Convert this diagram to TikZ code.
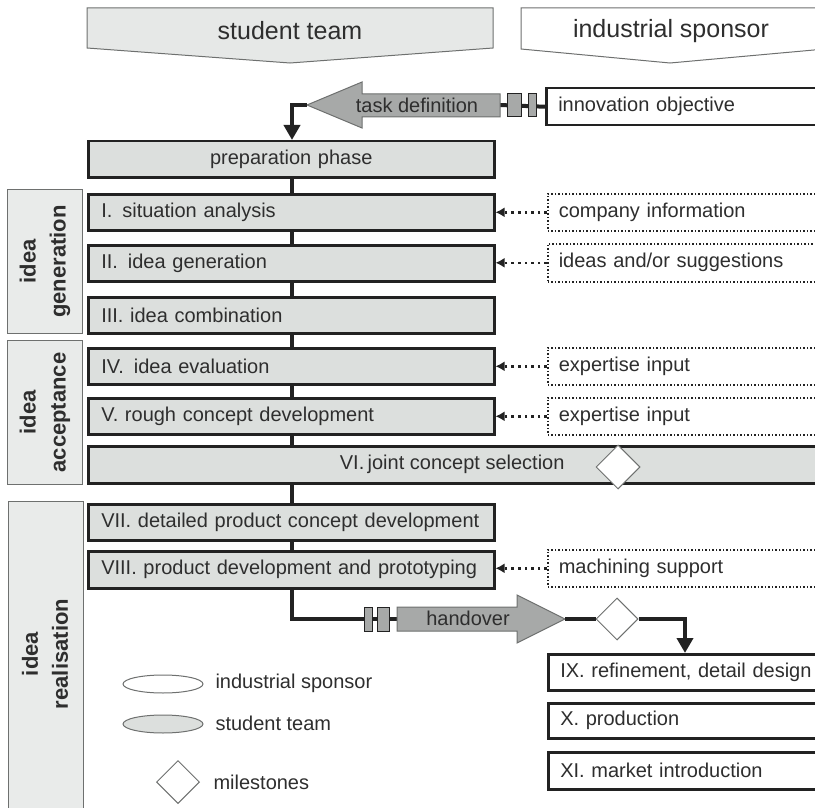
\documentclass[tikz,border=0pt]{standalone}
\usepackage{fontspec}
\setmainfont{Liberation Sans}
\usetikzlibrary{arrows.meta,shapes.geometric}
\definecolor{boxgray}{HTML}{DCDFDD}
\definecolor{hdrgray}{HTML}{E6E8E7}
\definecolor{arrgray}{HTML}{A7A9A8}
\definecolor{txt}{HTML}{2E2E2E}
\definecolor{edge}{HTML}{222222}
\definecolor{sidegray}{HTML}{E9EBEA}
\definecolor{thin}{HTML}{6E706F}
\tikzset{
  bt/.style={font=\fontsize{20}{24}\selectfont, text=txt},
  stbox/.style={bt, draw=edge, line width=2.5pt, fill=boxgray, minimum height=36pt,
     text width=380pt, inner xsep=13pt, inner ysep=0pt, align=left, anchor=north west},
  spbox/.style={bt, draw=edge, line width=2.5pt, fill=white, minimum height=36pt,
     text width=256pt, inner xsep=12pt, inner ysep=0pt, align=left, anchor=north west},
  dotbox/.style={bt, draw=edge, line width=1.6pt, dash pattern=on 1.5pt off 2pt, fill=white, minimum height=37pt,
     text width=256pt, inner xsep=11pt, inner ysep=0pt, align=left, anchor=north west},
  sidebox/.style={draw=thin, line width=1pt, fill=sidegray, anchor=north west, minimum width=75pt},
  sidetext/.style={font=\bfseries\fontsize{22}{30}\selectfont, text=txt, align=center, rotate=90},
  hdr/.style={draw=thin, line width=1pt},
  conn/.style={draw=edge, line width=4pt},
  connarrow/.style={conn, -{Triangle[length=15pt,width=16pt]}},
  dotarrow/.style={draw=edge, line width=2.6pt, dash pattern=on 2.6pt off 4pt, -{Latex[length=9pt,width=10pt]}},
  arrshape/.style={draw=thin, line width=1pt, fill=arrgray},
  smallrect/.style={draw=edge, line width=1pt, fill=arrgray},
  milestone/.style={diamond, draw=thin, line width=1pt, fill=white, inner sep=0pt},
}
\begin{document}
\begin{tikzpicture}[x=1pt,y=-1pt]
\useasboundingbox (0,0) rectangle (815,808);
\clip (0,0) rectangle (815,808);
% headers
\path[hdr, fill=hdrgray] (87,8) -- (493,8) -- (493,48) -- (290,63) -- (87,48) -- cycle;
\node[bt, font=\fontsize{25}{30}\selectfont] (hst) at (290,31) {student team};
\path[hdr, fill=white] (521,8) -- (825,8) -- (825,49) -- (670,63) -- (521,49) -- cycle;
\node[bt, font=\fontsize{25}{30}\selectfont] (hsp) at (671,31) {industrial sponsor};

% spine coordinate
\coordinate (spine) at (292,0);

% side labels
\node[sidebox, minimum height=144pt] (sgen) at (7,189) {};
\node[sidetext] (tgen) at (sgen.center) {idea\\generation};
\node[sidebox, minimum height=144pt] (sacc) at (7,340) {};
\node[sidetext] (tacc) at (sacc.center) {idea\\acceptance};
\node[sidebox, minimum height=315pt] (srea) at (8,501) {};
\node[sidetext] (trea) at (45,654) {idea\\realisation};

% main boxes
\node[stbox, align=center] (prep) at (87,140) {preparation phase};
\node[stbox] (s1) at (87,193) {I.\enspace situation analysis};
\node[stbox] (s2) at (87,244) {II.\enspace idea generation};
\node[stbox] (s3) at (87,296) {III. idea combination};
\node[stbox] (s4) at (87,347) {IV.\enspace idea evaluation};
\node[stbox] (s5) at (87,397) {V. rough concept development};
\node[stbox, text width=712pt, minimum height=37pt] (s6) at (87,445) {};
\node[bt, anchor=east] (t6) at (568,464) {VI.\,joint concept selection};
\node[milestone, minimum width=44pt, minimum height=44pt] (ms1) at (618,467) {};
\node[stbox] (s7) at (87,503) {VII. detailed product concept development};
\node[stbox, minimum height=37pt] (s8) at (87,550) {VIII. product development and prototyping};

% spine connectors
\draw[conn] (prep.south -| spine) -- (s1.north -| spine);
\draw[conn] (s1.south -| spine) -- (s2.north -| spine);
\draw[conn] (s2.south -| spine) -- (s3.north -| spine);
\draw[conn] (s3.south -| spine) -- (s4.north -| spine);
\draw[conn] (s4.south -| spine) -- (s5.north -| spine);
\draw[conn] (s5.south -| spine) -- (s6.north -| spine);
\draw[conn] (s6.south -| spine) -- (s7.north -| spine);
\draw[conn] (s7.south -| spine) -- (s8.north -| spine);

% sponsor inputs
\node[spbox, minimum height=37pt] (innov) at (545,87) {innovation objective};
\node[dotbox] (d1) at (547,193) {company information};
\node[dotbox, minimum height=38pt] (d2) at (547,243) {ideas and/or suggestions};
\node[dotbox] (d4) at (547,347) {expertise input};
\node[dotbox] (d5) at (547,397) {expertise input};
\node[dotbox] (d8) at (547,549) {machining support};
\draw[dotarrow] (d1.west) -- (d1.west -| s1.east);
\draw[dotarrow] (d2.west) -- (d2.west -| s2.east);
\draw[dotarrow] (d4.west) -- (d4.west -| s4.east);
\draw[dotarrow] (d5.west) -- (d5.west -| s5.east);
\draw[dotarrow] (d8.west) -- (d8.west -| s8.east);

% task definition arrow
\coordinate (tdtip) at (307,105);
\coordinate (tdend) at (500,105);
\draw[conn] (innov.west) -- (tdend);
\path[arrshape] (500,94) -- (362,94) -- (362,82) -- (tdtip) -- (362,128) -- (362,117) -- (500,117) -- cycle;
\node[bt] (tdtext) at (417,105) {task definition};
\path[smallrect] (507,94) rectangle (521,117);
\path[smallrect] (528,94) rectangle (536,117);
\draw[connarrow] (tdtip) -- (tdtip -| spine) -- (prep.north -| spine);

% handover arrow
\coordinate (hcorner) at (292,619);
\coordinate (hstart) at (397,619);
\coordinate (htip) at (565,619);
\draw[conn] (s8.south -| spine) -- (hcorner) -- (hstart);
\path[arrshape] (397,607) -- (517,607) -- (517,595) -- (htip) -- (517,643) -- (517,631) -- (397,631) -- cycle;
\node[bt] (hotext) at (468,618) {handover};
\path[smallrect] (364,607) rectangle (372,631);
\path[smallrect] (377,607) rectangle (389,631);
\node[milestone, minimum width=42pt, minimum height=42pt] (ms2) at (617,619) {};
\draw[conn] (htip) -- (ms2.west);

% sponsor realisation boxes
\node[spbox] (r9) at (547,653) {IX. refinement, detail design};
\node[spbox, minimum height=35pt] (r10) at (547,702) {X. production};
\node[spbox, minimum height=37pt] (r11) at (547,751) {XI. market introduction};
\coordinate (drop) at (685,619);
\draw[connarrow] (ms2.east) -- (drop) -- (r9.north -| drop);

% legend
\node[ellipse, draw=thin, line width=1pt, fill=white, minimum width=80pt, minimum height=18pt, inner sep=0pt] (lg1) at (163,684) {};
\node[bt, anchor=west] (lt1) at (212,683) {industrial sponsor};
\node[ellipse, draw=thin, line width=1pt, fill=boxgray, minimum width=80pt, minimum height=18pt, inner sep=0pt] (lg2) at (163,724) {};
\node[bt, anchor=west] (lt2) at (212,723) {student team};
\node[milestone, minimum width=43pt, minimum height=43pt] (lg3) at (178,782) {};
\node[bt, anchor=west] (lt3) at (210,782) {milestones};
\end{tikzpicture}
\end{document}
